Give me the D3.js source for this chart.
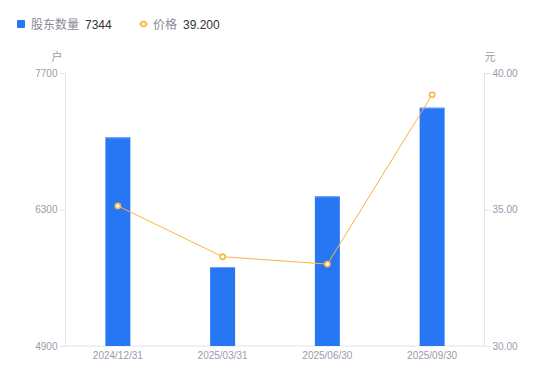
<!DOCTYPE html>
<html><head><meta charset="utf-8">
<script src="https://cdn.jsdelivr.net/npm/d3@7"></script>
<style>body{margin:0;background:#fff}svg{display:block;font-family:"Liberation Sans",Arial,"Noto Sans CJK SC",sans-serif}</style>
</head><body><svg id="c" width="550" height="381"></svg>
<script>
const categories = ["2024/12/31","2025/03/31","2025/06/30","2025/09/30"];
const holders = [7040, 5710, 6435, 7344];
const prices = [35.13, 33.27, 33.00, 39.20];
const leftTicks = [4900, 6300, 7700];
const rightTicks = [30, 35, 40];

const svg = d3.select("#c");
const m = {l:65.5, r:484.5, t:73, b:346};
const x = d3.scaleBand().domain(categories).range([m.l, m.r]);
const yL = d3.scaleLinear().domain([4900,7700]).range([m.b, m.t]);
const yR = d3.scaleLinear().domain([30,40]).range([m.b, m.t]);
const gray = "#9b9bab", axisC = "#e3e3e8";
const blue = "#2777f5", orange = "#f9b540";

// axes
const gl = svg.append("g").attr("transform",`translate(${m.l},0)`)
  .call(d3.axisLeft(yL).tickValues(leftTicks).tickSize(6).tickPadding(2).tickFormat(d3.format("d")));
const gr = svg.append("g").attr("transform",`translate(${m.r},0)`)
  .call(d3.axisRight(yR).tickValues(rightTicks).tickSize(6).tickPadding(2).tickFormat(d3.format(".2f")));
const gb = svg.append("g").attr("transform",`translate(0,${m.b})`)
  .call(d3.axisBottom(x).tickSize(0).tickPadding(6));
[gl,gr,gb].forEach(g=>{
  g.select(".domain").attr("stroke",axisC);
  g.selectAll(".tick line").attr("stroke",axisC);
  g.selectAll("text").attr("fill",gray).style("font-size","10px").style("font-family","'Liberation Sans',Arial,sans-serif");
});
gl.select(".domain").attr("d",`M0,${m.t}V${m.b}`);
gr.select(".domain").attr("d",`M0,${m.t}V${m.b}`);
gb.select(".domain").attr("d",`M${m.l},0H${m.r}`);

svg.append("text").attr("x",57).attr("y",61).attr("text-anchor","middle").attr("fill",gray).style("font-size","11px").text("户");
svg.append("text").attr("x",490).attr("y",61).attr("text-anchor","middle").attr("fill",gray).style("font-size","11px").text("元");

// bars
const bw = 25;
svg.append("g").selectAll("rect").data(holders).join("rect")
  .attr("x",(d,i)=>x(categories[i])+x.bandwidth()/2-bw/2)
  .attr("y",d=>yL(d)).attr("width",bw).attr("height",d=>m.b-yL(d))
  .attr("fill",blue);
svg.append("g").selectAll("line").data(holders).join("line")
  .attr("x1",(d,i)=>x(categories[i])+x.bandwidth()/2-bw/2)
  .attr("x2",(d,i)=>x(categories[i])+x.bandwidth()/2+bw/2)
  .attr("y1",d=>yL(d)+0.5).attr("y2",d=>yL(d)+0.5)
  .attr("stroke","#6fa3f8").attr("stroke-width",1);

// line
const cx = (d,i)=>x(categories[i])+x.bandwidth()/2;
svg.append("path").datum(prices)
  .attr("d",d3.line().x(cx).y(d=>yR(d)))
  .attr("fill","none").attr("stroke",orange).attr("stroke-width",1);
svg.append("g").selectAll("circle").data(prices).join("circle")
  .attr("cx",cx).attr("cy",d=>yR(d)).attr("r",2.6)
  .attr("fill","#fff").attr("stroke",orange).attr("stroke-width",1.6);

// legend
const lg = svg.append("g");
lg.append("rect").attr("x",17).attr("y",20).attr("width",8).attr("height",8).attr("rx",1).attr("fill",blue);
lg.append("text").attr("x",31).attr("y",28.5).attr("fill","#8a8a99").style("font-size","12px").text("股东数量");
lg.append("text").attr("x",85).attr("y",28.5).attr("fill","#333").style("font-size","12px").text(holders[holders.length-1]);
lg.append("line").attr("x1",139).attr("x2",148).attr("y1",24).attr("y2",24).attr("stroke",orange).attr("stroke-width",1.2);
lg.append("circle").attr("cx",143.5).attr("cy",24).attr("r",2.4).attr("fill","#fff").attr("stroke",orange).attr("stroke-width",1.6);
lg.append("text").attr("x",153).attr("y",28.5).attr("fill","#8a8a99").style("font-size","12px").text("价格");
lg.append("text").attr("x",183).attr("y",28.5).attr("fill","#333").style("font-size","12px").text(prices[prices.length-1].toFixed(3));
</script></body></html>
